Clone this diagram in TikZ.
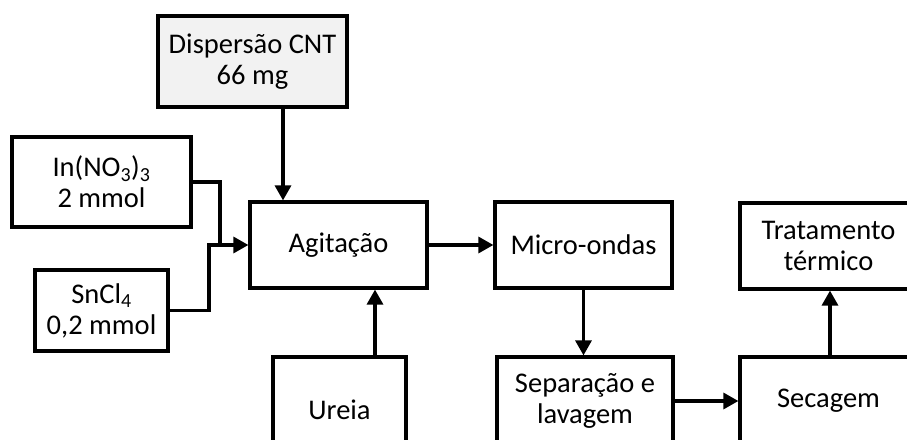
\documentclass[tikz,border=0pt]{standalone}
\usepackage{fontspec}
\setmainfont{Carlito}
\usetikzlibrary{arrows.meta}
\definecolor{boxgray}{RGB}{242,242,242}
\tikzset{
  blk/.style={draw=black, line width=3.2pt, fill=white, align=center, inner sep=0pt,
    font=\fontsize{28.5}{31}\selectfont},
  conn/.style={line width=3.2pt, draw=black},
  arr/.style={conn, -{Triangle[length=15pt,width=16pt]}},
}
\begin{document}
\begin{tikzpicture}[x=1pt,y=-1pt]
\useasboundingbox (0,0) rectangle (907,439);
\clip (0,0) rectangle (907,439);
\node[blk, fill=boxgray, minimum width=189pt, minimum height=91pt] (disp) at (252.5,61.5) {Dispersão CNT\\66 mg};
\node[blk, minimum width=179pt, minimum height=90pt] (in) at (101.5,182) {In(NO\textsubscript{3})\textsubscript{3}\\2 mmol};
\node[blk, minimum width=133pt, minimum height=81pt] (sn) at (101.5,310.5) {SnCl\textsubscript{4}\\0,2 mmol};
\node[blk, minimum width=177pt, minimum height=86pt] (agit) at (338.5,245) {Agitação};
\node[blk, minimum width=177pt, minimum height=86pt] (micro) at (583.5,245) {Micro-ondas};
\node[blk, minimum width=177pt, minimum height=86pt] (trat) at (828.5,246) {Tratamento\\térmico};
\node[blk, minimum width=133pt, minimum height=106pt] (ureia) at (339.5,410) {Ureia};
\node[blk, minimum width=176pt, minimum height=88pt] (sep) at (585,401) {Separação e\\lavagem};
\node[blk, minimum width=177pt, minimum height=88pt] (sec) at (828.5,401) {Secagem};
\coordinate (j1) at (220,245);
\coordinate (j2) at (209,245);
\draw[arr] ([xshift=30.5pt]disp.south) -- ([xshift=30.5pt]disp.south |- agit.north);
\draw[conn] (in.east) -| (j1);
\draw[arr] (sn.east) -| (j2) -- (agit.west);
\draw[arr] ([xshift=35.5pt]ureia.north) -- ([xshift=35.5pt]ureia.north |- agit.south);
\draw[arr] (agit.east) -- (agit.east -| micro.west);
\draw[arr] (micro.south) -- (micro.south |- sep.north);
\draw[arr] (sep.east) -- (sep.east -| sec.west);
\draw[arr] ([xshift=1.5pt]sec.north) -- ([xshift=1.5pt]sec.north |- trat.south);
\end{tikzpicture}
\end{document}
